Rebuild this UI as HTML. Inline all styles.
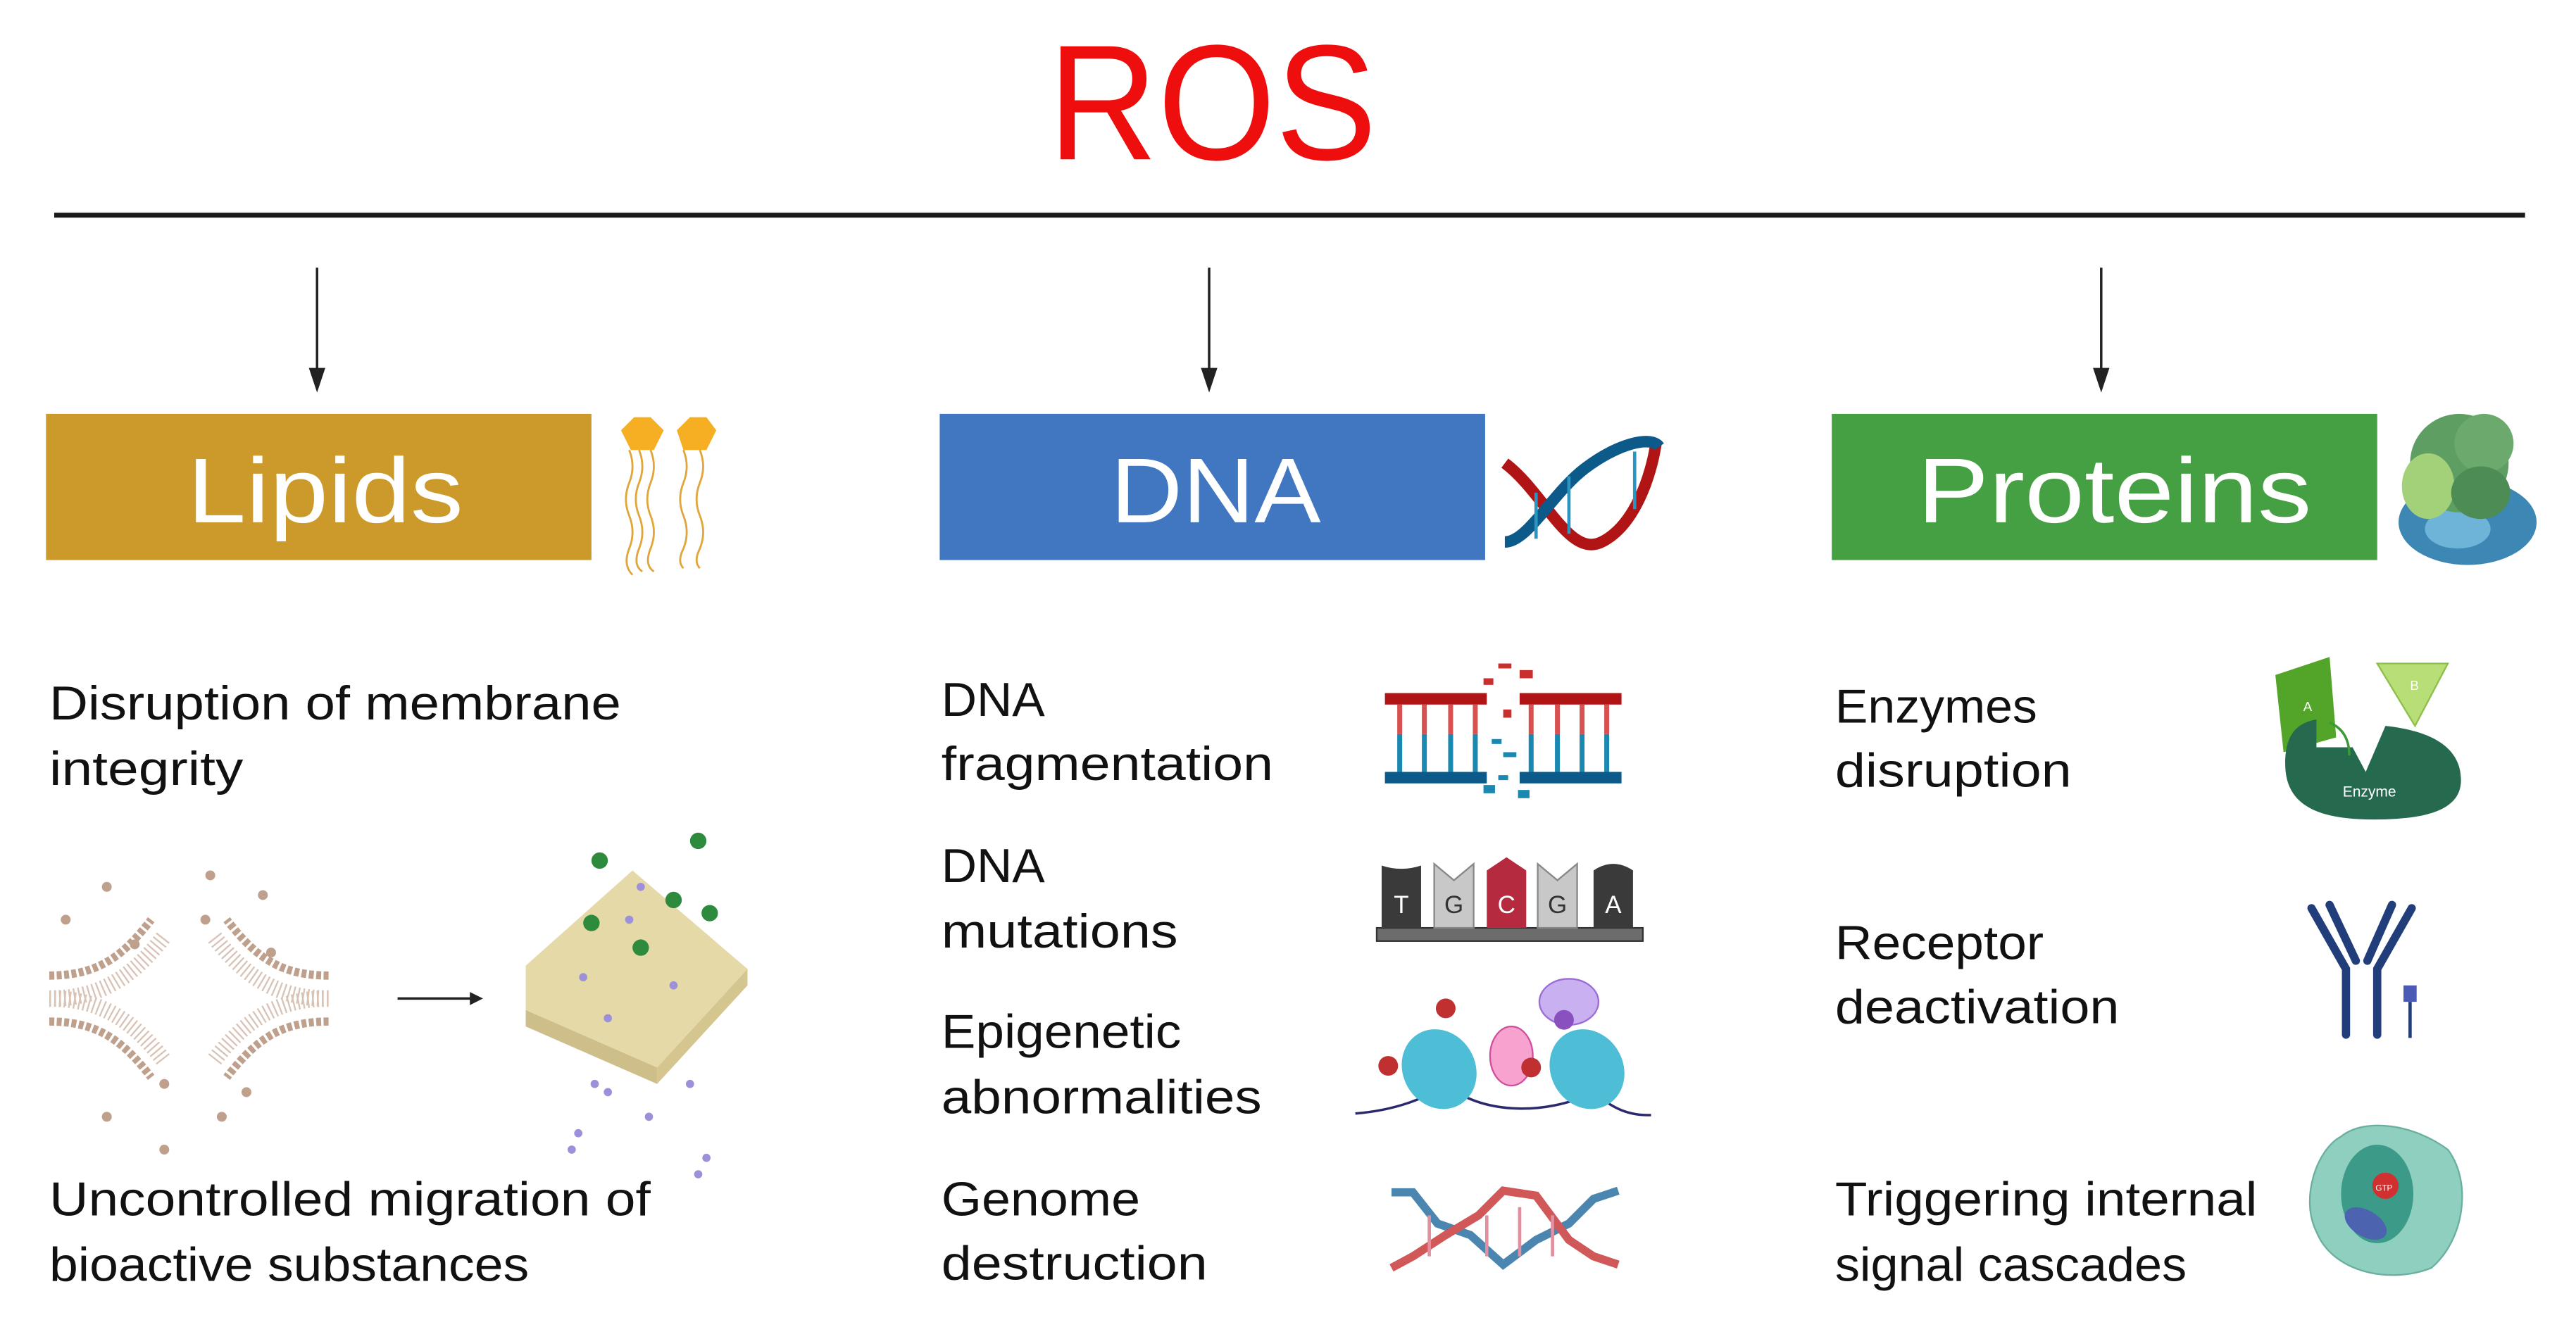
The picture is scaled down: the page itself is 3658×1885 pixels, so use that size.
<!DOCTYPE html>
<html><head><meta charset="utf-8"><style>
html,body{margin:0;padding:0;background:#fff;}
svg{display:block;}
text{font-family:"Liberation Sans",sans-serif;}
</style></head><body>
<svg width="3658" height="1885" viewBox="0 0 1568 808" xmlns="http://www.w3.org/2000/svg">
<rect width="1568" height="808" fill="#fff"/>
<text x="738" y="97" text-anchor="middle" font-size="100" fill="#EE0E0E" textLength="200" lengthAdjust="spacingAndGlyphs">ROS</text>
<rect x="33" y="129.5" width="1504" height="3" fill="#1a1a1a"/>
<g stroke="#222" stroke-width="1.5">
<line x1="193" y1="163" x2="193" y2="230"/><line x1="736" y1="163" x2="736" y2="230"/><line x1="1279" y1="163" x2="1279" y2="230"/>
</g>
<g fill="#222">
<polygon points="188,224 198,224 193,239"/><polygon points="731,224 741,224 736,239"/><polygon points="1274,224 1284,224 1279,239"/>
</g>
<rect x="28" y="252" width="332" height="89" fill="#CC9A2A"/>
<rect x="572" y="252" width="332" height="89" fill="#4177C1"/>
<rect x="1115" y="252" width="332" height="89" fill="#45A043"/>
<g fill="#fff" font-size="56" text-anchor="middle">
<text x="198" y="318" textLength="168" lengthAdjust="spacingAndGlyphs">Lipids</text>
<text x="740" y="318" textLength="128" lengthAdjust="spacingAndGlyphs">DNA</text>
<text x="1287" y="318" textLength="240" lengthAdjust="spacingAndGlyphs">Proteins</text>
</g>
<!-- lipid icon -->
<g fill="#F6AE22"><polygon points="378,262 386,254 396,254 404,262 398,274 384,274"/><polygon points="412,262 420,254 430,254 436,262 430,274 416,274"/></g>
<g stroke="#E1A53A" stroke-width="1.2" fill="none">
<path d="M383,274 q4,10 0,20 q-4,10 0,20 q4,10 0,20 q-4,10 2,16"/><path d="M389,274 q4,10 0,20 q-4,10 0,20 q4,10 0,20 q-4,10 2,14"/><path d="M396,274 q4,10 0,20 q-4,10 0,20 q4,10 0,20 q-4,10 2,14"/>
<path d="M416,274 q4,10 0,20 q-4,10 0,20 q4,10 0,20 q-4,8 0,12"/><path d="M426,274 q4,10 0,20 q-4,10 0,20 q4,10 0,20 q-4,8 0,12"/></g>
<!-- DNA helix icon -->
<g fill="none" stroke-width="7"><path d="M916,282 C940,300 955,340 975,330 C995,320 1005,290 1008,270" stroke="#B01414"/><path d="M916,330 C930,330 945,300 965,285 C985,270 1005,265 1010,272" stroke="#0B5A8A"/></g>
<g stroke="#2a95c0" stroke-width="2"><line x1="935" y1="300" x2="935" y2="328"/><line x1="955" y1="290" x2="955" y2="325"/><line x1="995" y1="275" x2="995" y2="310"/></g>
<!-- protein icon -->
<ellipse cx="1502" cy="318" rx="42" ry="26" fill="#3D87B5"/><ellipse cx="1496" cy="322" rx="20" ry="12" fill="#6DB4D8"/>
<ellipse cx="1497" cy="282" rx="30" ry="30" fill="#5E9E62"/><ellipse cx="1512" cy="270" rx="18" ry="18" fill="#6BAA6C"/><ellipse cx="1478" cy="296" rx="16" ry="20" fill="#A3D17A"/><ellipse cx="1510" cy="300" rx="18" ry="16" fill="#4E8C55"/>
<!-- body text -->
<g font-size="29" fill="#111">
<text x="30" y="438" textLength="348" lengthAdjust="spacingAndGlyphs">Disruption of membrane</text>
<text x="30" y="478" textLength="118" lengthAdjust="spacingAndGlyphs">integrity</text>
<text x="30" y="740" textLength="366" lengthAdjust="spacingAndGlyphs">Uncontrolled migration of</text>
<text x="30" y="780" textLength="292" lengthAdjust="spacingAndGlyphs">bioactive substances</text>
<text x="573" y="436" textLength="63" lengthAdjust="spacingAndGlyphs">DNA</text>
<text x="573" y="475" textLength="202" lengthAdjust="spacingAndGlyphs">fragmentation</text>
<text x="573" y="537" textLength="63" lengthAdjust="spacingAndGlyphs">DNA</text>
<text x="573" y="577" textLength="144" lengthAdjust="spacingAndGlyphs">mutations</text>
<text x="573" y="638" textLength="146" lengthAdjust="spacingAndGlyphs">Epigenetic</text>
<text x="573" y="678" textLength="195" lengthAdjust="spacingAndGlyphs">abnormalities</text>
<text x="573" y="740" textLength="121" lengthAdjust="spacingAndGlyphs">Genome</text>
<text x="573" y="779" textLength="162" lengthAdjust="spacingAndGlyphs">destruction</text>
<text x="1117" y="440" textLength="123" lengthAdjust="spacingAndGlyphs">Enzymes</text>
<text x="1117" y="479" textLength="144" lengthAdjust="spacingAndGlyphs">disruption</text>
<text x="1117" y="584" textLength="127" lengthAdjust="spacingAndGlyphs">Receptor</text>
<text x="1117" y="623" textLength="173" lengthAdjust="spacingAndGlyphs">deactivation</text>
<text x="1117" y="740" textLength="257" lengthAdjust="spacingAndGlyphs">Triggering internal</text>
<text x="1117" y="780" textLength="214" lengthAdjust="spacingAndGlyphs">signal cascades</text>
</g>
<!-- membrane illustration -->
<g fill="none" stroke="#BFA08C" stroke-width="5" stroke-dasharray="3 1.5">
<path d="M30,594 C60,594 75,582 92,560"/><path d="M30,622 C60,622 75,634 92,656"/>
<path d="M200,594 C170,594 155,582 138,560"/><path d="M200,622 C170,622 155,634 138,656"/>
</g>
<g fill="none" stroke="#D8C3B5" stroke-width="10" stroke-dasharray="1 2">
<path d="M30,608 C60,608 80,596 100,570"/><path d="M30,608 C60,608 80,620 100,646"/>
<path d="M200,608 C170,608 150,596 130,570"/><path d="M200,608 C170,608 150,620 130,646"/>
</g>
<g fill="#BFA08C">
<circle cx="65" cy="540" r="3"/><circle cx="40" cy="560" r="3"/><circle cx="128" cy="533" r="3"/><circle cx="125" cy="560" r="3"/><circle cx="165" cy="580" r="3"/><circle cx="82" cy="575" r="3"/><circle cx="65" cy="680" r="3"/><circle cx="100" cy="660" r="3"/><circle cx="150" cy="665" r="3"/><circle cx="100" cy="700" r="3"/><circle cx="135" cy="680" r="3"/><circle cx="160" cy="545" r="3"/>
</g>
<line x1="242" y1="608" x2="288" y2="608" stroke="#222" stroke-width="1.5"/><polygon points="286,604 294,608 286,612" fill="#222"/>
<polygon points="320,588 385,530 455,590 400,650 320,615" fill="#E6D9A8"/><polygon points="320,615 400,650 400,660 320,625" fill="#CDBE8A"/><polygon points="400,650 455,590 455,600 400,660" fill="#D5C690"/>
<g fill="#2E8B3E"><circle cx="365" cy="524" r="5"/><circle cx="425" cy="512" r="5"/><circle cx="410" cy="548" r="5"/><circle cx="432" cy="556" r="5"/><circle cx="360" cy="562" r="5"/><circle cx="390" cy="577" r="5"/></g>
<g fill="#9C90D8"><circle cx="390" cy="540" r="2.5"/><circle cx="383" cy="560" r="2.5"/><circle cx="355" cy="595" r="2.5"/><circle cx="410" cy="600" r="2.5"/><circle cx="370" cy="620" r="2.5"/><circle cx="362" cy="660" r="2.5"/><circle cx="395" cy="680" r="2.5"/><circle cx="370" cy="665" r="2.5"/><circle cx="352" cy="690" r="2.5"/><circle cx="420" cy="660" r="2.5"/><circle cx="430" cy="705" r="2.5"/><circle cx="348" cy="700" r="2.5"/><circle cx="425" cy="715" r="2.5"/></g>
<!-- DNA fragmentation -->
<rect x="843" y="422" width="62" height="7" fill="#B01414"/><rect x="925" y="422" width="62" height="7" fill="#B01414"/>
<rect x="843" y="470" width="62" height="7" fill="#0B5A8A"/><rect x="925" y="470" width="62" height="7" fill="#0B5A8A"/>
<g stroke-width="3"><g stroke="#D85050"><line x1="852" y1="429" x2="852" y2="447"/><line x1="867" y1="429" x2="867" y2="447"/><line x1="883" y1="429" x2="883" y2="447"/><line x1="898" y1="429" x2="898" y2="447"/><line x1="932" y1="429" x2="932" y2="447"/><line x1="948" y1="429" x2="948" y2="447"/><line x1="963" y1="429" x2="963" y2="447"/><line x1="978" y1="429" x2="978" y2="447"/></g>
<g stroke="#1A88B0"><line x1="852" y1="447" x2="852" y2="470"/><line x1="867" y1="447" x2="867" y2="470"/><line x1="883" y1="447" x2="883" y2="470"/><line x1="898" y1="447" x2="898" y2="470"/><line x1="932" y1="447" x2="932" y2="470"/><line x1="948" y1="447" x2="948" y2="470"/><line x1="963" y1="447" x2="963" y2="470"/><line x1="978" y1="447" x2="978" y2="470"/></g></g>
<g fill="#C83030"><rect x="903" y="413" width="6" height="4"/><rect x="925" y="408" width="8" height="5"/><rect x="912" y="404" width="8" height="3"/><rect x="915" y="432" width="5" height="5"/></g>
<g fill="#1A88B0"><rect x="908" y="450" width="6" height="3"/><rect x="915" y="458" width="8" height="3"/><rect x="903" y="478" width="7" height="5"/><rect x="924" y="481" width="7" height="5"/><rect x="912" y="472" width="6" height="3"/></g>
<!-- TGCGA -->
<rect x="838" y="565" width="162" height="8" fill="#6c6c6c" stroke="#333"/>
<path d="M841,527 q12,4 24,0 v38 h-24z" fill="#3a3a3a"/><path d="M873,526 l12,10 l12,-10 v39 h-24z" fill="#c8c8c8" stroke="#888"/>
<path d="M905,530 l12,-8 l12,8 v35 h-24z" fill="#B52A3E"/><path d="M936,526 l12,10 l12,-10 v39 h-24z" fill="#c8c8c8" stroke="#888"/>
<path d="M970,530 q12,-8 24,0 v35 h-24z" fill="#3a3a3a"/>
<g font-size="15" text-anchor="middle"><text x="853" y="556" fill="#fff">T</text><text x="885" y="556" fill="#333">G</text><text x="917" y="556" fill="#fff">C</text><text x="948" y="556" fill="#333">G</text><text x="982" y="556" fill="#fff">A</text></g>
<!-- epigenetic -->
<path d="M825,678 C850,676 870,668 880,660 C900,678 940,680 970,665 C985,678 995,679 1005,679" stroke="#2C2A6E" stroke-width="1.5" fill="none"/>
<ellipse cx="955" cy="610" rx="18" ry="14" fill="#C9B0F0" stroke="#9C6BD8"/>
<ellipse cx="920" cy="643" rx="13" ry="18" fill="#F7A2CF" stroke="#D04E9E"/>
<ellipse cx="876" cy="651" rx="22" ry="25" fill="#4DBED5" transform="rotate(-30 876 651)"/>
<ellipse cx="966" cy="651" rx="22" ry="25" fill="#4DBED5" transform="rotate(-30 966 651)"/>
<g fill="#C03030"><circle cx="880" cy="614" r="6"/><circle cx="845" cy="649" r="6"/><circle cx="932" cy="650" r="6"/></g><circle cx="952" cy="621" r="6" fill="#8A50C0"/>
<!-- genome destruction -->
<path d="M847,726 L860,726 L875,745 L895,752 L915,770 L935,755 L955,745 L970,730 L985,725" stroke="#4A86B0" stroke-width="5" fill="none"/>
<path d="M847,772 L860,765 L880,752 L900,740 L915,725 L935,728 L955,755 L970,765 L985,770" stroke="#D05858" stroke-width="5" fill="none"/>
<g stroke="#E28FA0" stroke-width="2"><line x1="870" y1="740" x2="870" y2="765"/><line x1="905" y1="740" x2="905" y2="765"/><line x1="925" y1="735" x2="925" y2="765"/><line x1="945" y1="740" x2="945" y2="765"/></g>
<!-- enzyme -->
<polygon points="1385,411 1418,400 1422,449 1390,458" fill="#52A528"/><text x="1402" y="433" font-size="8" fill="#fff">A</text>
<polygon points="1447,404 1490,404 1470,442" fill="#B8DE78" stroke="#8EBF4A"/><text x="1467" y="420" font-size="8" fill="#fff">B</text>
<path d="M1391,465 C1391,445 1400,440 1410,438 L1410,455 L1432,455 L1440,470 L1452,442 C1480,445 1498,455 1498,475 C1498,492 1480,499 1445,499 C1410,499 1391,490 1391,465Z" fill="#256A4E"/>
<text x="1426" y="485" font-size="9" fill="#fff">Enzyme</text>
<path d="M1418,440 q12,5 12,20" stroke="#3C9A36" stroke-width="1.5" fill="none"/>
<!-- receptor -->
<g stroke="#213D7A" stroke-width="5" fill="none" stroke-linecap="round"><path d="M1407,553 L1428,590 L1428,630"/><path d="M1468,553 L1447,590 L1447,630"/><path d="M1418,551 L1434,585"/><path d="M1456,551 L1441,585"/></g>
<rect x="1463" y="600" width="8" height="10" fill="#4B5BB5"/><line x1="1467" y1="610" x2="1467" y2="632" stroke="#213D7A" stroke-width="2"/>
<!-- cell -->
<path d="M1425,692 C1440,680 1470,685 1490,700 C1505,720 1500,755 1480,772 C1455,782 1420,775 1410,750 C1400,730 1410,700 1425,692Z" fill="#8FCFC0" stroke="#6AAFA0"/>
<ellipse cx="1447" cy="727" rx="22" ry="30" fill="#3C9A88"/><circle cx="1452" cy="722" r="8" fill="#D03030"/><text x="1446" y="725" font-size="5" fill="#fff">GTP</text>
<ellipse cx="1440" cy="745" rx="14" ry="8" fill="#4C63B0" transform="rotate(30 1440 745)"/>
</svg>
</body></html>
